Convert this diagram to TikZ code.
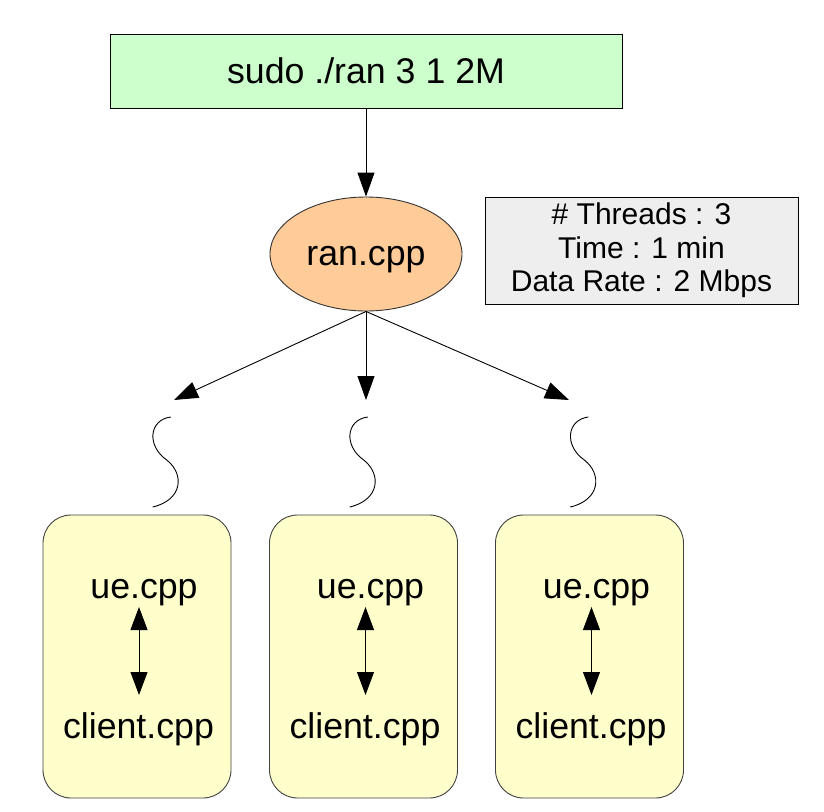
\documentclass[tikz,border=0pt]{standalone}
\usepackage{fontspec}
\setmainfont{Liberation Sans}
\usetikzlibrary{arrows.meta,shapes.geometric}
\definecolor{cmdgreen}{HTML}{CCFFCC}
\definecolor{ranpeach}{HTML}{FFCC99}
\definecolor{infogray}{HTML}{EEEEEE}
\definecolor{boxyellow}{HTML}{FFFFCC}
\tikzset{
  bigfont/.style={font=\fontsize{35.7pt}{40pt}\selectfont},
  infofont/.style={font=\fontsize{30pt}{33.5pt}\selectfont},
  conn/.style={line width=0.9pt, -{Triangle[length=24pt,width=17pt]}},
  dconn/.style={line width=0.9pt, {Triangle[length=23pt,width=17pt]}-{Triangle[length=23pt,width=17pt]}},
  threadbox/.style={draw=black!75, line width=0.9pt, fill=boxyellow, rounded corners=28pt, minimum width=188pt, minimum height=283pt},
  lbl/.style={bigfont, inner sep=1.5pt, anchor=base},
  squig/.style={line width=0.9pt}
}
\begin{document}
\begin{tikzpicture}[x=1pt,y=-1pt]
\useasboundingbox (0,0) rectangle (824,811);
% command box
\node[draw, line width=0.9pt, fill=cmdgreen, minimum width=512pt, minimum height=74pt, bigfont] (cmd) at (366,71) {sudo ./ran 3 1 2M};
% ran.cpp ellipse
\node[ellipse, draw=black!80, line width=0.9pt, fill=ranpeach, minimum width=192pt, minimum height=114pt, inner sep=0pt, text height=26pt, text depth=3pt, bigfont] (ran) at (366,254) {ran.cpp};
% info box
\node[draw, line width=0.9pt, fill=infogray, minimum width=313pt, minimum height=107pt, infofont, align=center, inner sep=0pt] (info) at (641.5,250.5) {\# Threads : 3\\Time : 1 min\\Data Rate : 2 Mbps};
\draw[conn] (cmd) -- (ran);
% thread arrows
\coordinate (t1) at (174,400);
\coordinate (t2) at (366,400);
\coordinate (t3) at (569,400);
\draw[conn] (ran.south) -- (t1);
\draw[conn] (ran.south) -- (t2);
\draw[conn] (ran.south) -- (t3);
% squiggles
\foreach \tx in {170.7,367.7,588.3} {
  \draw[squig] (\tx,417) .. controls (\tx-22,420) and (\tx-24,446) .. (\tx-4,460)
     .. controls (\tx+14,474) and (\tx+12,500) .. (\tx-18,507);
}
% thread boxes
\foreach \i/\cx in {1/137,2/363.5,3/589.5} {
  \node[threadbox] (box\i) at (\cx,656.5) {};
  \node[lbl] (ue\i) at (\cx+7,598) {ue.cpp};
  \node[lbl] (cl\i) at (\cx+1.5,738) {client.cpp};
  \coordinate (a\i t) at (\cx+2,607);
  \coordinate (a\i b) at (\cx+2,695);
  \draw[dconn] (a\i t) -- (a\i b);
}
\end{tikzpicture}
\end{document}
